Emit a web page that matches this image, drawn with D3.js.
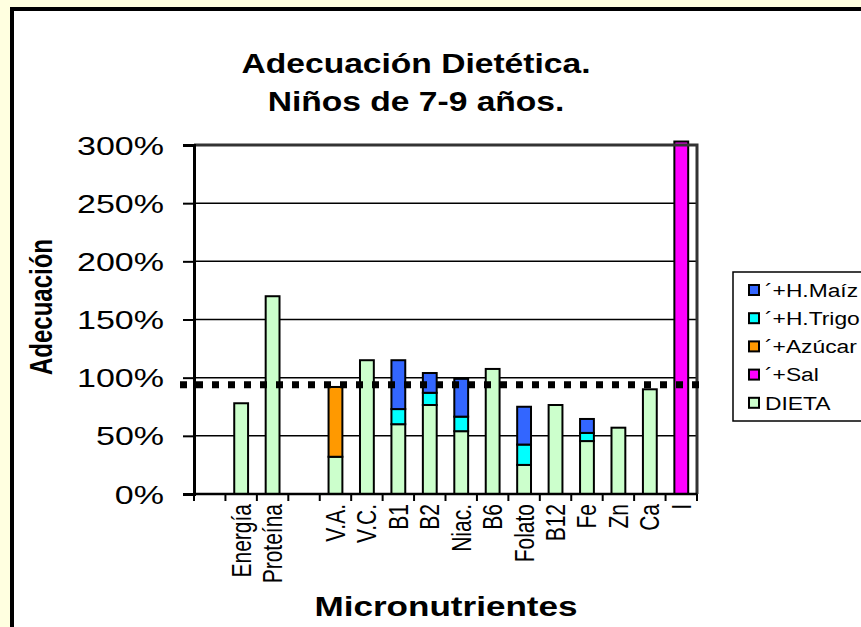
<!DOCTYPE html>
<html>
<head>
<meta charset="utf-8">
<script src="https://cdn.jsdelivr.net/npm/d3@7"></script>
<style>
  html, body { margin: 0; padding: 0; background: #ffffe0; }
  text { font-family: "Liberation Sans", Arial, sans-serif; }
</style>
</head>
<body>
<div></div>
<script>
const width = 861;
const height = 627;

// data (percent of adequacy)
const categories = ['', 'Energía', 'Proteína', '', 'V.A.', 'V.C.', 'B1', 'B2', 'Niac.', 'B6', 'Folato', 'B12', 'Fe', 'Zn', 'Ca', 'I'];
const dieta  = [0, 78, 170, 0, 32, 115, 60, 76.5, 54, 107.5, 25, 76.5, 45.5, 57, 90, 0];
const azucar = [0, 0, 0, 0, 60, 0, 0, 0, 0, 0, 0, 0, 0, 0, 0, 0];
const trigo  = [0, 0, 0, 0, 0, 0, 13, 10.5, 12.5, 0, 17.5, 0, 7, 0, 0, 0];
const maiz   = [0, 0, 0, 0, 0, 0, 42, 17, 32.5, 0, 32.5, 0, 12, 0, 0, 0];
const sal    = [0, 0, 0, 0, 0, 0, 0, 0, 0, 0, 0, 0, 0, 0, 0, 420];
const yTicks = [0, 50, 100, 150, 200, 250, 300];
const reference = 94;

const seriesNames = ['DIETA', '´+Azúcar', '´+H.Trigo', '´+H.Maíz', '´+Sal'];
const seriesValues = [dieta, azucar, trigo, maiz, sal];
const seriesColors = ['#ccffcc', '#ff9900', '#00ffff', '#3366ff', '#ff00ff'];
const legendOrder = ['´+H.Maíz', '´+H.Trigo', '´+Azúcar', '´+Sal', 'DIETA'];

const plot = {left: 194, right: 697, top: 145, bottom: 494};
const sx = 1.28;   // text in the picture is a bit stretched sideways

const svg = d3.select('div').append('svg').attr('width', width).attr('height', height)
  .style('display', 'block');

svg.append('rect').attr('width', width).attr('height', height).attr('fill', '#ffffe0');
// chart frame, runs off the right and bottom edges
svg.append('rect').attr('x', 12).attr('y', 9).attr('width', width + 20).attr('height', height + 20)
  .attr('fill', '#fff').attr('stroke', '#000').attr('stroke-width', 4);

const x = d3.scaleBand().domain(d3.range(categories.length))
  .range([plot.left, plot.right]).paddingInner(0.56).paddingOuter(0.28);
const y = d3.scaleLinear().domain([0, 300]).range([plot.bottom, plot.top]);

// table for the stack
const table = categories.map((c, i) => {
  const row = {i: i};
  seriesNames.forEach((s, k) => row[s] = seriesValues[k][i]);
  return row;
});
const stacked = d3.stack().keys(seriesNames)(table);
const color = d3.scaleOrdinal().domain(seriesNames).range(seriesColors);

// gridlines
svg.append('g').selectAll('line').data(yTicks.filter(t => t > 0 && t < 300)).enter().append('line')
  .attr('x1', plot.left).attr('x2', plot.right)
  .attr('y1', d => y(d)).attr('y2', d => y(d))
  .attr('stroke', '#000').attr('stroke-width', 1.5);

// bars (anything past the top is cut just above the frame, like the original)
const topLimit = y(303);
svg.append('g').selectAll('g').data(stacked).enter().append('g')
  .attr('fill', d => color(d.key))
  .selectAll('rect').data(d => d.filter(p => p[1] > p[0])).enter().append('rect')
  .attr('x', d => x(d.data.i))
  .attr('width', x.bandwidth())
  .attr('y', d => Math.max(y(d[1]), topLimit))
  .attr('height', d => y(d[0]) - Math.max(y(d[1]), topLimit))
  .attr('stroke', '#000').attr('stroke-width', 2);

// top and right frame of the plot
svg.append('path')
  .attr('d', `M${plot.left},${plot.top}H${plot.right}V${plot.bottom}`)
  .attr('fill', 'none').attr('stroke', '#333').attr('stroke-width', 3);

// y axis
const yAxis = svg.append('g').attr('transform', `translate(${plot.left},0)`)
  .call(d3.axisLeft(y).tickValues(yTicks).tickSize(11).tickFormat(d => d + '%'));
yAxis.select('.domain').attr('stroke', '#000').attr('stroke-width', 3);
yAxis.selectAll('.tick line').attr('stroke', '#000').attr('stroke-width', 2).attr('x2', -11).attr('x1', 2);
yAxis.selectAll('.tick text')
  .attr('x', 0).attr('dy', '0.36em')
  .attr('transform', `translate(-30,0) scale(1.36,1)`)
  .attr('fill', '#000').attr('font-size', 25).attr('font-family', '"Liberation Sans", Arial, sans-serif');

// x axis line and ticks at category boundaries
svg.append('line').attr('x1', plot.left).attr('x2', plot.right)
  .attr('y1', y(0)).attr('y2', y(0)).attr('stroke', '#000').attr('stroke-width', 2.5);
svg.append('g').selectAll('line').data(d3.range(categories.length + 1)).enter().append('line')
  .attr('x1', d => plot.left + d * x.step()).attr('x2', d => plot.left + d * x.step())
  .attr('y1', y(0)).attr('y2', y(0) + 7)
  .attr('stroke', '#000').attr('stroke-width', 2);

svg.append('g').selectAll('text').data(categories).enter().append('text')
  .attr('transform', (d, i) => `translate(${x(i) + x.bandwidth() / 2},504) scale(${sx},1) rotate(-90)`)
  .attr('dy', '0.35em').attr('text-anchor', 'end').attr('font-size', 21)
  .text(d => d);

// dotted reference line
svg.append('line').attr('x1', 180).attr('x2', 702)
  .attr('y1', y(reference)).attr('y2', y(reference))
  .attr('stroke', '#000').attr('stroke-width', 7).attr('stroke-dasharray', '7,9');

// titles
const title = svg.append('g').attr('font-weight', 'bold').attr('font-size', 28).attr('text-anchor', 'middle');
title.append('text').attr('transform', `translate(416,73) scale(1.2,1)`).text('Adecuación Dietética.');
title.append('text').attr('transform', `translate(416,111) scale(1.2,1)`).text('Niños de 7-9 años.');

svg.append('text').attr('transform', `translate(41,307) scale(${sx},1) rotate(-90)`)
  .attr('dy', '0.35em').attr('text-anchor', 'middle')
  .attr('font-weight', 'bold').attr('font-size', 24).text('Adecuación');

svg.append('text').attr('transform', `translate(446,616) scale(1.3,1)`)
  .attr('text-anchor', 'middle').attr('font-weight', 'bold').attr('font-size', 27)
  .text('Micronutrientes');

// legend
const legend = svg.append('g').attr('transform', 'translate(733,272)');
legend.append('rect').attr('width', 160).attr('height', 149)
  .attr('fill', '#fff').attr('stroke', '#000').attr('stroke-width', 1.5);
const item = legend.selectAll('g').data(legendOrder).enter().append('g')
  .attr('transform', (d, i) => `translate(16,${18 + i * 28.2})`);
item.append('rect').attr('x', 0).attr('y', -5).attr('width', 10).attr('height', 10)
  .attr('fill', d => color(d)).attr('stroke', '#000').attr('stroke-width', 2);
item.append('text').attr('transform', `translate(16,0) scale(1.2,1)`)
  .attr('dy', '0.36em').attr('font-size', 19).text(d => d);
</script>
</body>
</html>
